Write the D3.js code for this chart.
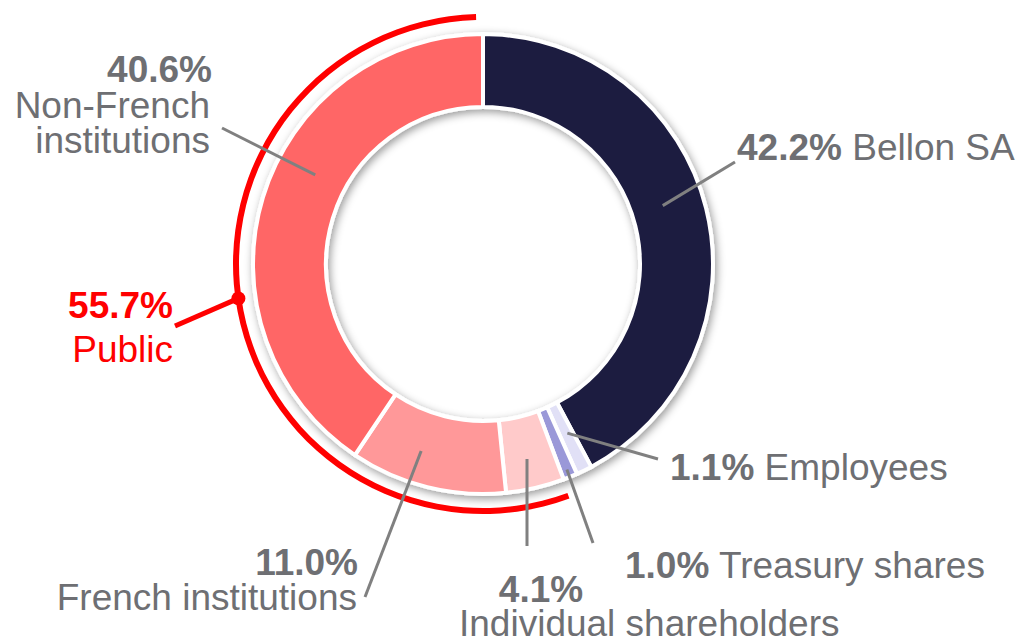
<!DOCTYPE html>
<html>
<head>
<meta charset="utf-8">
<script src="https://cdn.jsdelivr.net/npm/d3@7"></script>
<style>
  body { margin: 0; background: #fff; }
  svg { display: block; font-family: "Liberation Sans", Arial, sans-serif; }
</style>
</head>
<body>
<svg width="1023" height="641"></svg>
<script>
// shareholding data
const owners = ["Bellon SA", "Employees", "Treasury shares", "Individual shareholders", "French institutions", "Non-French institutions"];
const shares = [42.2, 1.1, 1.0, 4.1, 11.0, 40.6];
const colors = ["#1d1c41", "#e1e0f6", "#9a98d8", "#ffcaca", "#ff9899", "#ff6666"];
const nameLines = [["Bellon SA"], ["Employees"], ["Treasury shares"], ["Individual shareholders"], ["French institutions"], ["Non-French", "institutions"]];

// the "Public" group = last three owners
const publicOwners = ["Individual shareholders", "French institutions", "Non-French institutions"];
const publicLabel = ["Public"];

// label layout (leader anchor angle in degrees, text positions)
const labelLayout = [
    { angle: 72, r: 189, end: [735, 162], inline: true, x: 737, y: 160 },
    { angle: 153.5, r: 189, end: [658, 459], inline: true, x: 670, y: 480 },
    { angle: 157.8, r: 222, end: [593, 543], inline: true, x: 625, y: 578 },
    { angle: 167.3, r: 200, end: [527, 546], pct: [541, 602, "middle"], name: [459, 636, "start"], lh: 35 },
    { angle: 198.3, r: 197, end: [365, 597], pct: [358, 575, "end"], name: [357, 610, "end"], lh: 35 },
    { angle: 298, r: 190, end: [222, 128], pct: [212, 82, "end"], name: [210, 118, "end"], lh: 35 }
];
const publicLayout = { angle: 262, end: [175, 326], pct: [173, 318, "end"], name: [173, 362, "end"] };

const cx = 483, cy = 264;
const rOuter = 230, rInner = 157;
const rPublic = 247;
const grey = "#6e6f73";
const fontSize = 37;

const svg = d3.select("svg");

const defs = svg.append("defs");
const shadow = defs.append("filter")
    .attr("id", "shadow")
    .attr("x", "-20%").attr("y", "-20%")
    .attr("width", "140%").attr("height", "140%");
shadow.append("feDropShadow")
    .attr("dx", 2).attr("dy", 3)
    .attr("stdDeviation", 4)
    .attr("flood-color", "#000")
    .attr("flood-opacity", 0.4);

const g = svg.append("g").attr("transform", `translate(${cx},${cy})`);

const data = owners.map((o, i) => ({ owner: o, share: shares[i], color: colors[i], lines: nameLines[i], layout: labelLayout[i] }));

const pie = d3.pie()
    .sort(null)
    .value(d => d.share);
const arcs = pie(data);

const arc = d3.arc()
    .innerRadius(rInner)
    .outerRadius(rOuter);

// slices
g.append("g")
    .attr("filter", "url(#shadow)")
    .selectAll("path")
    .data(arcs)
    .enter()
    .append("path")
    .attr("d", arc)
    .attr("fill", d => d.data.color)
    .attr("stroke", "#fff")
    .attr("stroke-width", 4)
    .attr("stroke-linejoin", "miter");

// public arc
const pubArcs = arcs.filter(a => publicOwners.includes(a.data.owner));
const pubStart = d3.min(pubArcs, a => a.startAngle);
const pubEnd = d3.max(pubArcs, a => a.endAngle);
const pubShare = d3.sum(pubArcs, a => a.data.share);

g.append("path")
    .attr("d", d3.arc()
        .innerRadius(rPublic - 3)
        .outerRadius(rPublic + 3)
        .startAngle(pubStart + 0.005)
        .endAngle(pubEnd - 0.028)())
    .attr("fill", "#ff0000");

const polar = (deg, r) => {
    const a = deg * Math.PI / 180;
    return [r * Math.sin(a), -r * Math.cos(a)];
};

// leader lines
g.append("g")
    .selectAll("line")
    .data(arcs)
    .enter()
    .append("line")
    .attr("x1", d => polar(d.data.layout.angle, d.data.layout.r)[0])
    .attr("y1", d => polar(d.data.layout.angle, d.data.layout.r)[1])
    .attr("x2", d => d.data.layout.end[0] - cx)
    .attr("y2", d => d.data.layout.end[1] - cy)
    .attr("stroke", "#808080")
    .attr("stroke-width", 3);

const fmt = v => d3.format(".1f")(v) + "%";

// labels
const labels = svg.append("g")
    .attr("font-size", fontSize)
    .attr("fill", grey);

arcs.forEach(a => {
    const L = a.data.layout;
    if (L.inline) {
        const t = labels.append("text")
            .attr("x", L.x)
            .attr("y", L.y);
        t.append("tspan").attr("font-weight", "bold").text(fmt(a.data.share));
        t.append("tspan").text(" " + a.data.lines[0]);
    } else {
        labels.append("text")
            .attr("x", L.pct[0])
            .attr("y", L.pct[1])
            .attr("text-anchor", L.pct[2])
            .attr("font-weight", "bold")
            .text(fmt(a.data.share));
        a.data.lines.forEach((line, i) => {
            labels.append("text")
                .attr("x", L.name[0])
                .attr("y", L.name[1] + i * L.lh)
                .attr("text-anchor", L.name[2])
                .text(line);
        });
    }
});

// public label
const pDot = polar(publicLayout.angle, rPublic);
svg.append("line")
    .attr("x1", cx + pDot[0])
    .attr("y1", cy + pDot[1])
    .attr("x2", publicLayout.end[0])
    .attr("y2", publicLayout.end[1])
    .attr("stroke", "#ff0000")
    .attr("stroke-width", 5);
svg.append("circle")
    .attr("cx", cx + pDot[0])
    .attr("cy", cy + pDot[1])
    .attr("r", 7)
    .attr("fill", "#ff0000");

svg.append("text")
    .attr("x", publicLayout.pct[0])
    .attr("y", publicLayout.pct[1])
    .attr("text-anchor", publicLayout.pct[2])
    .attr("font-size", fontSize)
    .attr("font-weight", "bold")
    .attr("fill", "#ff0000")
    .text(fmt(pubShare));
svg.append("text")
    .attr("x", publicLayout.name[0])
    .attr("y", publicLayout.name[1])
    .attr("text-anchor", publicLayout.name[2])
    .attr("font-size", fontSize)
    .attr("fill", "#ff0000")
    .text(publicLabel[0]);
</script>
</body>
</html>
